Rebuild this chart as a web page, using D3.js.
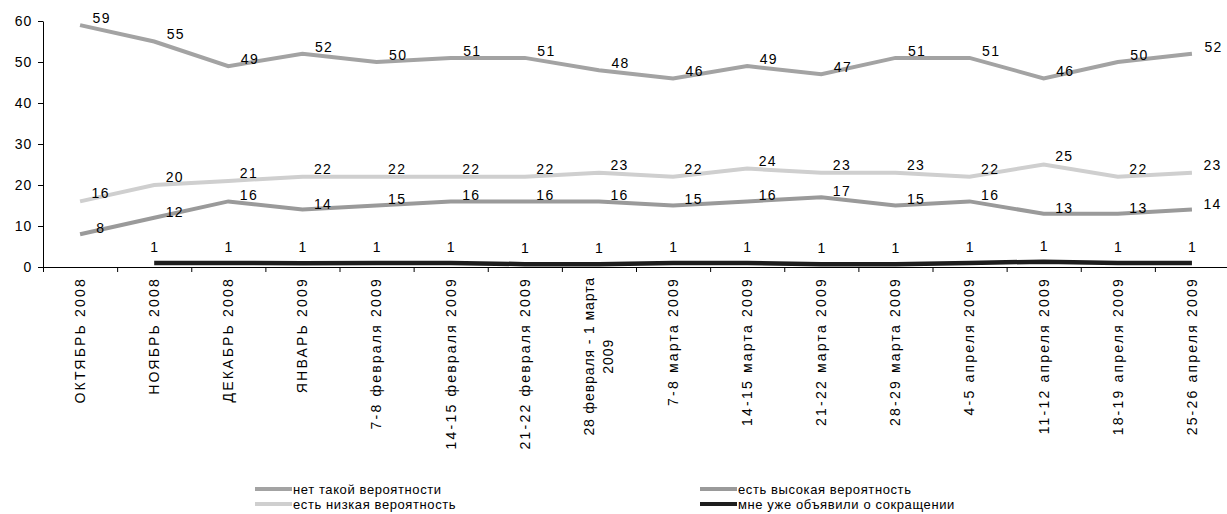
<!DOCTYPE html>
<html><head><meta charset="utf-8">
<script src="https://cdn.jsdelivr.net/npm/d3@7"></script>
<style>
body{margin:0;background:#fff;}
svg{display:block;font-family:"Liberation Sans",Arial,sans-serif;}
</style></head>
<body><svg id="c" width="1227" height="514"></svg>
<script>
const categories = ["ОКТЯБРЬ 2008","НОЯБРЬ 2008","ДЕКАБРЬ 2008","ЯНВАРЬ 2009","7-8 февраля 2009","14-15 февраля 2009","21-22 февраля 2009","28 февраля - 1 марта|2009","7-8 марта 2009","14-15 марта 2009","21-22 марта 2009","28-29 марта 2009","4-5 апреля 2009","11-12 апреля 2009","18-19 апреля 2009","25-26 апреля 2009"];
const seriesNames = ["нет такой вероятности","есть высокая вероятность","есть низкая вероятность","мне уже объявили о сокращении"];
const noChance   = [59,55,49,52,50,51,51,48,46,49,47,51,51,46,50,52];
const highChance = [8,12,16,14,15,16,16,16,15,16,17,15,16,13,13,14];
const lowChance  = [16,20,21,22,22,22,22,23,22,24,23,23,22,25,22,23];
const laidOff    = [null,1.0,1.0,0.9,1.0,1.0,0.7,0.7,1.0,1.0,0.7,0.7,1.0,1.3,1.0,1.0];
const laidOffLabels = [null,1,1,1,1,1,1,1,1,1,1,1,1,1,1,1];
const yTicks = [0,10,20,30,40,50,60];

const svg = d3.select("#c");
const x = d3.scaleLinear().domain([0, categories.length]).range([43, 1229]);
const y = d3.scaleLinear().domain([0, 60]).range([267, 21]);
const cx = i => x(i + 0.5);

// axes
const yAxis = svg.append("g").attr("transform","translate(43,0)")
  .call(d3.axisLeft(y).tickValues(yTicks).tickSize(5).tickSizeOuter(0));
yAxis.select(".domain").attr("stroke","#000");
yAxis.selectAll("line").attr("stroke","#000");
yAxis.selectAll("text").attr("font-size","14px").attr("fill","#000")
  .attr("font-family","Liberation Sans, Arial, sans-serif").attr("letter-spacing","0.8px").attr("dx","-3");

const xAxis = svg.append("g").attr("transform","translate(0,267)")
  .call(d3.axisBottom(x).tickValues(d3.range(0, categories.length + 1)).tickSize(5).tickSizeOuter(0).tickFormat(""));
xAxis.select(".domain").attr("stroke","#000");
xAxis.selectAll("line").attr("stroke","#000");

// category labels
const catG = svg.append("g");
categories.forEach((c, i) => {
  const lines = c.split("|");
  const g = catG.append("g").attr("transform", `translate(${cx(i)},277) rotate(-90)`);
  const fs = 14, lh = 19;
  const n = lines.length;
  const ls = n > 1 ? "0.9px" : "2.2px";
  const t0 = g.append("text").attr("x",0).attr("y", -(n-1)*lh/2).attr("dy","0.35em")
    .attr("text-anchor","end").attr("font-size",fs+"px").attr("letter-spacing",ls).text(lines[0]);
  const len = t0.node().getComputedTextLength();
  for (let k = 1; k < n; k++) {
    g.append("text").attr("x", -len/2).attr("y", -(n-1)*lh/2 + k*lh).attr("dy","0.35em")
      .attr("text-anchor","middle").attr("font-size",fs+"px").attr("letter-spacing",ls).text(lines[k]);
  }
});

const series = [
  {vals: noChance,   color:"#a3a3a3", w:4, labels: noChance,   dx:21, dy:-7},
  {vals: lowChance,  color:"#cfcfcf", w:4, labels: lowChance,  dx:20, dy:-8},
  {vals: highChance, color:"#9a9a9a", w:4, labels: highChance, dx:20, dy:-6},
  {vals: laidOff,    color:"#1e1e1e", w:4.5, labels: laidOffLabels, dx:0, dy:-16}
];

const line = d3.line().defined(d => d != null).x((d,i) => cx(i)).y(d => y(d));
series.forEach(s => {
  svg.append("path").attr("d", line(s.vals)).attr("fill","none")
    .attr("stroke", s.color).attr("stroke-width", s.w).attr("stroke-linejoin","miter");
});
series.forEach(s => {
  svg.append("g").selectAll("text").data(s.vals.map((v,i)=>({v,i,l:s.labels[i]})).filter(d=>d.v!=null))
    .join("text")
    .attr("x", d => cx(d.i) + s.dx + 0.7).attr("y", d => y(d.v) + s.dy).attr("dy","0.35em")
    .attr("text-anchor","middle").attr("font-size","14px").attr("letter-spacing","1.4px").attr("fill","#000")
    .text(d => d.l);
});

// legend
const legendItems = [
  {name: seriesNames[0], color:"#a3a3a3", w:4, lx:255, ly:489},
  {name: seriesNames[2], color:"#cfcfcf", w:4, lx:255, ly:504},
  {name: seriesNames[1], color:"#9a9a9a", w:4, lx:700, ly:489},
  {name: seriesNames[3], color:"#1e1e1e", w:4, lx:700, ly:504}
];
const lg = svg.append("g");
legendItems.forEach(it => {
  lg.append("line").attr("x1", it.lx).attr("x2", it.lx + 37).attr("y1", it.ly).attr("y2", it.ly)
    .attr("stroke", it.color).attr("stroke-width", it.w);
  lg.append("text").attr("x", it.lx + 38).attr("y", it.ly).attr("dy","0.35em")
    .attr("font-size","13px").attr("letter-spacing","0.6px").attr("fill","#000").text(it.name);
});
</script></body></html>
